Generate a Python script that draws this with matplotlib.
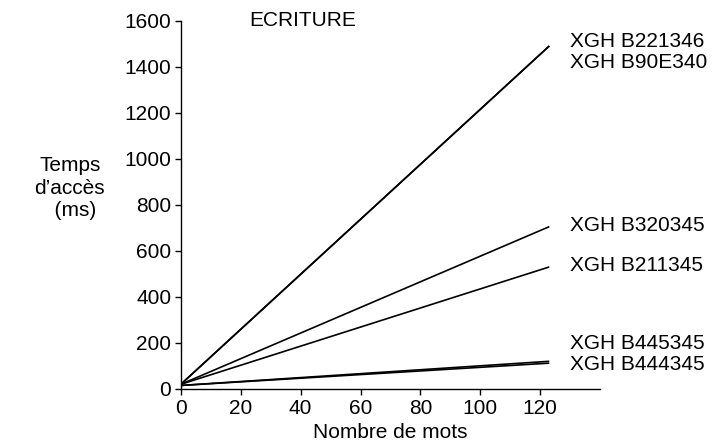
import matplotlib
matplotlib.use("Agg")
import matplotlib.pyplot as plt

plt.rcParams['font.family'] = ['Liberation Sans', 'DejaVu Sans']

# Access time (ms) vs number of words written, per module reference
x_words = [0, 123]
series = {
    "XGH B221346": [20, 1490],
    "XGH B90E340": [20, 1490],
    "XGH B320345": [20, 705],
    "XGH B211345": [20, 530],
    "XGH B445345": [15, 120],
    "XGH B444345": [15, 112],
}
x_ticks = [0, 20, 40, 60, 80, 100, 120]
y_ticks = [0, 200, 400, 600, 800, 1000, 1200, 1400, 1600]

FS = 15

fig = plt.figure(figsize=(7.12, 4.46), dpi=100)
ax = fig.add_axes([0.254, 0.128, 0.589, 0.8257])

for name, vals in series.items():
    ax.plot(x_words, vals, color='black', lw=1.2, solid_capstyle='butt')

ax.set_xlim(0, 140)
ax.set_ylim(0, 1600)
ax.set_xticks(x_ticks)
ax.set_yticks(y_ticks)
for s in ('top', 'right'):
    ax.spines[s].set_visible(False)
for s in ('left', 'bottom'):
    ax.spines[s].set_linewidth(1.0)
ax.tick_params(direction='out', length=4, width=1.0, labelsize=FS, pad=3)

ax.set_xlabel("Nombre de mots", fontsize=FS, labelpad=4)
fig.text(0.098, 0.578, "Temps\nd\u2019acc\u00e8s\n  (ms)", fontsize=FS,
         ha='center', va='center', linespacing=1.22)

ax.text(23, 1600, "ECRITURE", fontsize=FS, ha='left', va='center')

label_y = {
    "XGH B221346": 1510,
    "XGH B90E340": 1420,
    "XGH B320345": 710,
    "XGH B211345": 536,
    "XGH B445345": 196,
    "XGH B444345": 104,
}
for name, yv in label_y.items():
    ax.text(130, yv, name, fontsize=FS, ha='left', va='center', clip_on=False)

fig.savefig("out.png", dpi=100)
